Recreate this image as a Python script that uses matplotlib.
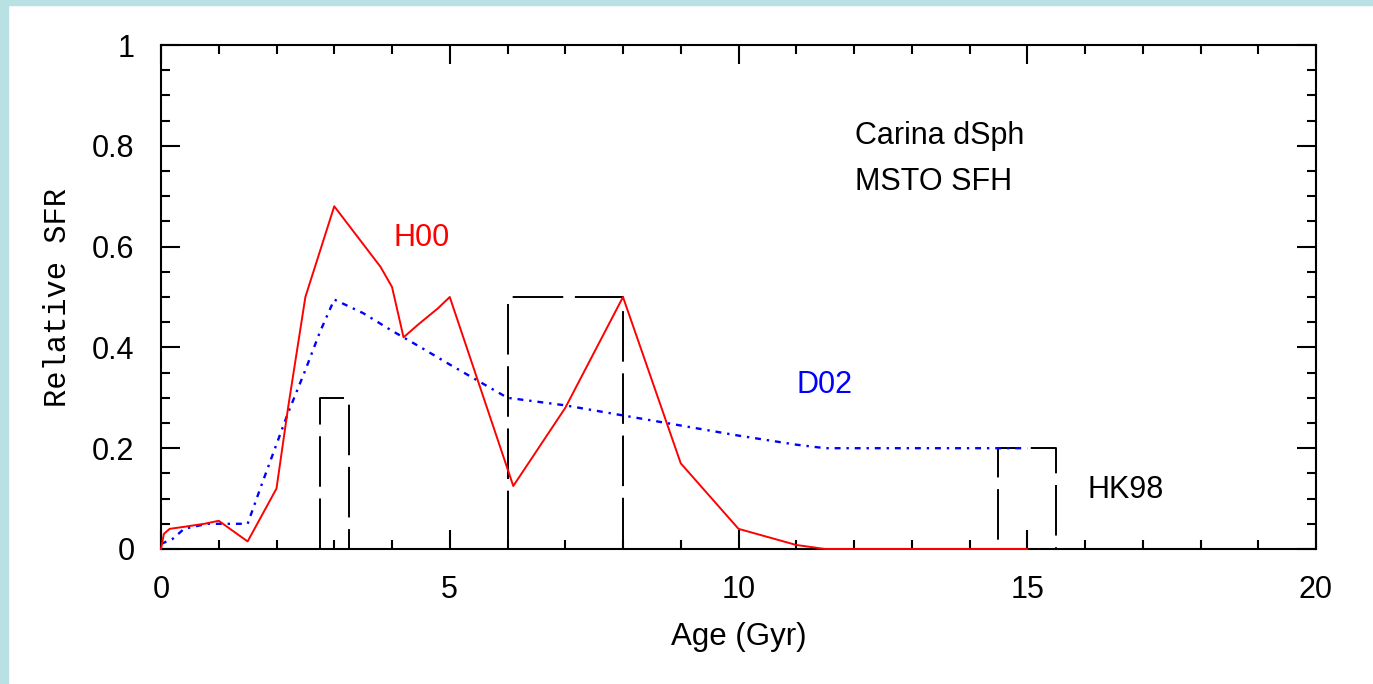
import matplotlib.pyplot as plt
from matplotlib.ticker import MultipleLocator

# H00 (red solid)
h00_age = [0, 0.05, 0.15, 0.4, 0.75, 1.0, 1.5, 2.0, 2.2, 2.5, 3.0, 3.8, 4.0, 4.2, 4.45, 4.8, 5.0, 6.1, 7.0, 8.0, 9.0, 10.0, 11.0, 11.5, 15.0]
h00_sfr = [0, 0.03, 0.04, 0.044, 0.05, 0.056, 0.015, 0.12, 0.28, 0.50, 0.68, 0.56, 0.52, 0.42, 0.445, 0.478, 0.50, 0.125, 0.28, 0.50, 0.17, 0.04, 0.008, 0.0, 0.0]

# D02 (blue dotted)
d02_age = [0, 0.2, 0.4, 0.8, 1.5, 1.75, 2.2, 2.5, 2.75, 3.0, 3.5, 4.0, 4.5, 5.0, 5.5, 6.0, 7.0, 8.0, 9.0, 10.0, 11.0, 11.5, 15.0]
d02_sfr = [0.01, 0.02, 0.04, 0.05, 0.05, 0.13, 0.27, 0.355, 0.43, 0.495, 0.468, 0.433, 0.40, 0.366, 0.333, 0.30, 0.285, 0.265, 0.245, 0.225, 0.207, 0.2, 0.2]

# HK98 (black dashed boxes)
hk_age = [2.75, 2.75, 3.25, 3.25, 6.0, 6.0, 8.0, 8.0, 14.5, 14.5, 15.5, 15.5]
hk_sfr = [0, 0.3, 0.3, 0, 0, 0.5, 0.5, 0, 0, 0.2, 0.2, 0]

fig = plt.figure(figsize=(13.73, 6.84), dpi=100)
fig.patches.append(plt.Rectangle((0, 0), 8 / 1373, 1, transform=fig.transFigure, color="#b9e0e3", zorder=-1))
fig.patches.append(plt.Rectangle((0, 1 - 5 / 684), 1, 5 / 684, transform=fig.transFigure, color="#b9e0e3", zorder=-1))

ax = fig.add_axes([161 / 1373, 1 - 549 / 684, (1316 - 161) / 1373, (549 - 45) / 684])

ax.plot(hk_age, hk_sfr, color="black", lw=1.4, dashes=(26, 6), clip_on=False)
ax.plot(d02_age, d02_sfr, color="blue", lw=1.7, linestyle=(0, (2.5, 2.5, 1, 2.5)))
ax.plot(h00_age, h00_sfr, color="red", lw=1.4, clip_on=False, zorder=3)

ax.set_xlim(0, 20)
ax.set_ylim(0, 1)
ax.xaxis.set_major_locator(MultipleLocator(5))
ax.xaxis.set_minor_locator(MultipleLocator(1))
ax.yaxis.set_major_locator(MultipleLocator(0.2))
ax.yaxis.set_minor_locator(MultipleLocator(0.05))
ax.set_yticks([0, 0.2, 0.4, 0.6, 0.8, 1])
ax.set_yticklabels(["0", "0.2", "0.4", "0.6", "0.8", "1"])

for s in ax.spines.values():
    s.set_linewidth(1.5)
ax.tick_params(which="both", direction="in", top=True, right=True, width=1.5, labelsize=22, pad=19)
ax.tick_params(which="major", length=14)
ax.tick_params(which="minor", length=6.5)
for lab in ax.get_xticklabels() + ax.get_yticklabels():
    lab.set_family("Liberation Sans")

ax.set_xlabel("Age (Gyr)", family="Liberation Sans", fontsize=22.5, labelpad=12)
ax.set_ylabel("Relative SFR", family="Liberation Mono", fontsize=22, labelpad=14)

ax.text(4.02, 0.617, "H00", color="red", fontsize=22, family="Liberation Sans", va="center")
ax.text(12.02, 0.82, "Carina dSph", color="black", fontsize=22, family="Liberation Sans", va="center")
ax.text(12.02, 0.728, "MSTO SFH", color="black", fontsize=22, family="Liberation Sans", va="center")
ax.text(11.0, 0.325, "D02", color="blue", fontsize=22, family="Liberation Sans", va="center")
ax.text(16.05, 0.117, "HK98", color="black", fontsize=22, family="Liberation Sans", va="center")

fig.savefig("out.png", dpi=100)
